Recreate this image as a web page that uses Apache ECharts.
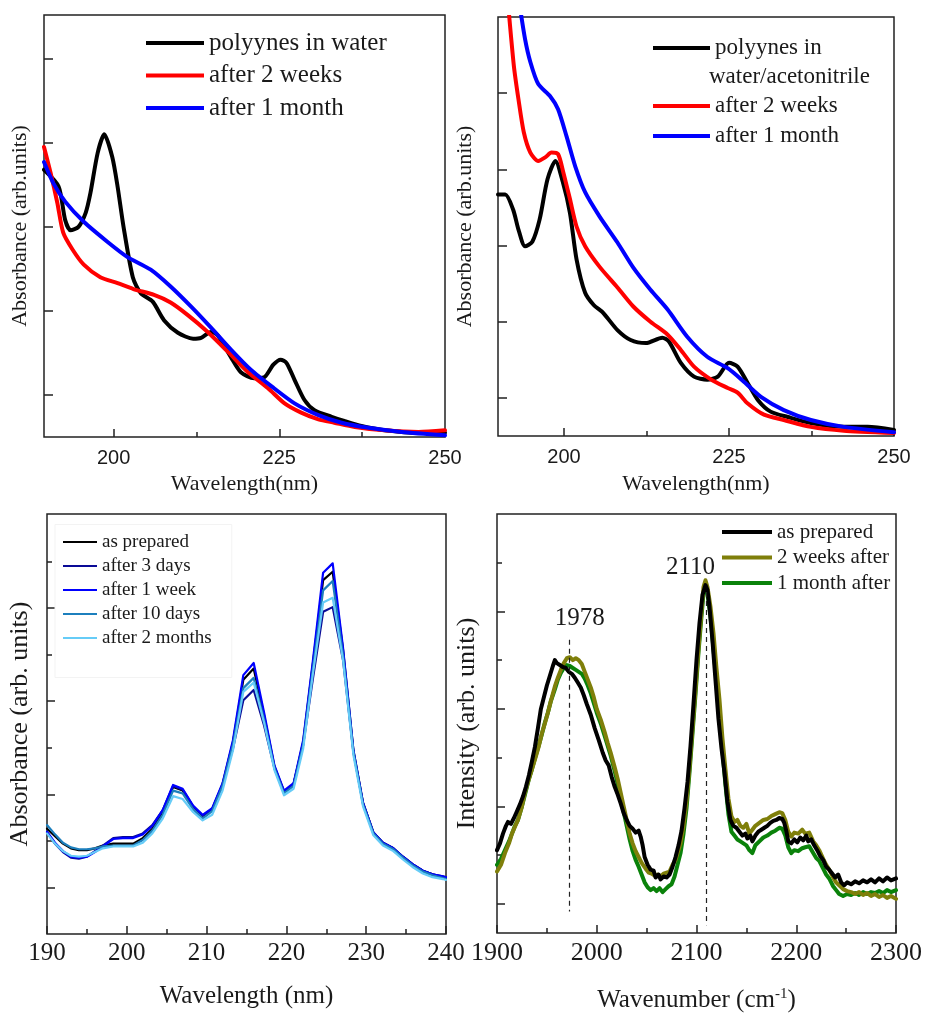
<!DOCTYPE html>
<html>
<head>
<meta charset="utf-8">
<script src="https://cdn.jsdelivr.net/npm/echarts@6/dist/echarts.min.js"></script>
<style>
html,body{margin:0;padding:0;background:#fff;}
#chart{width:925px;height:1014px;}
</style>
</head>
<body>
<div id="chart"></div>
<script>
// ---------- Panel 1 (polyynes in water) ----------
const P1_BLACK_X = [189.5,191.7,192.7,193.5,194.7,195.8,196.5,197.6,198.6,199.8,200.6,201.5,202.9,204.1,205.9,207.6,209.7,212,213.2,214.7,215.7,217.7,219.2,221.2,222.7,224.1,225.2,226.1,227.3,228.8,230.3,232.9,234.8,237.4,240.9,246,250];
const P1_BLACK_Y = [3.68,3.48,3.08,2.96,3.00,3.17,3.40,3.88,4.10,3.83,3.48,3.00,2.40,2.21,2.11,1.89,1.74,1.67,1.68,1.75,1.71,1.45,1.27,1.20,1.21,1.36,1.42,1.38,1.18,0.94,0.82,0.74,0.69,0.63,0.58,0.55,0.55];
const P1_RED_X = [189.5,190.5,191.5,192.4,193.8,195.5,198,200.6,203,206.1,208.6,211.2,214.2,217.3,220.3,223.3,225.8,228.3,230.9,233.3,236.4,240.9,246,250];
const P1_RED_Y = [3.95,3.64,3.29,2.93,2.73,2.55,2.40,2.33,2.26,2.19,2.10,1.95,1.75,1.51,1.27,1.08,0.90,0.79,0.71,0.67,0.62,0.58,0.56,0.58];
const P1_BLUE_X = [189.5,190.9,192.7,195.5,199.1,202.1,205.6,208.6,211.7,214.7,217.7,220.7,224.2,227.3,230.9,234.4,238.5,243.5,250];
const P1_BLUE_Y = [3.77,3.52,3.30,3.06,2.82,2.64,2.49,2.29,2.05,1.80,1.54,1.30,1.08,0.90,0.76,0.67,0.61,0.56,0.52];

// ---------- Panel 2 (polyynes in water/acetonitrile) ----------
const P2_BLACK_X = [190,191.1,192.3,193.1,194.1,195.2,196.3,197.5,198.7,199.8,200.9,201.9,203.2,204.5,205.9,208.1,210.1,212.4,214.9,215.9,217.7,219.7,221.7,223.3,225,226.3,227.8,229.4,231.3,233.9,237.4,242.4,246,250];
const P2_BLACK_Y = [3.67,3.67,3.47,3.21,2.99,3.05,3.34,3.87,4.11,3.84,3.43,2.82,2.38,2.22,2.12,1.89,1.76,1.72,1.79,1.74,1.46,1.28,1.24,1.28,1.46,1.41,1.20,0.97,0.82,0.75,0.67,0.62,0.62,0.58];
const P2_RED_X = [191.3,192.4,193.1,193.9,194.9,196.1,197.2,198.1,199.1,199.9,200.9,201.9,203.2,205.4,208.1,210.5,213.1,215.7,217.7,219.7,222.3,224.8,226.3,227.8,230.3,233.3,237.4,242.4,250];
const P2_RED_Y = [6.4,5.36,4.92,4.49,4.22,4.11,4.16,4.22,4.20,3.96,3.61,3.25,2.99,2.72,2.45,2.20,2.00,1.83,1.63,1.41,1.24,1.13,1.07,0.93,0.78,0.71,0.62,0.57,0.54];
const P2_BLUE_X = [193.2,194.1,194.9,196.1,197.9,199.1,200.4,201.7,203.2,205.4,208.1,210.5,213.1,215.7,218.7,221.7,224.8,227.3,229.9,233.3,237.4,242.4,250];
const P2_BLUE_Y = [6.2,5.71,5.41,5.12,4.96,4.79,4.43,4.04,3.70,3.38,3.04,2.71,2.42,2.16,1.80,1.54,1.39,1.21,1.01,0.84,0.71,0.62,0.55];

// ---------- Panel 3 (UV-Vis over time) ----------
const P3_WAVELENGTH = [190,191,192,193,194,195,196,197,198.3,199.5,200.8,202,203.2,204.5,205.8,207,208.3,209.5,210.7,212,213.3,214.6,215.9,217.2,218.5,219.7,220.9,222.1,223.3,224.6,225.8,227.1,228.4,229.6,230.9,232.1,233.4,234.6,235.8,237.1,238.3,239.6,240];
const P3_AS_PREPARED = [1.63,1.55,1.47,1.42,1.40,1.40,1.42,1.45,1.47,1.47,1.47,1.53,1.63,1.81,2.08,2.04,1.87,1.77,1.84,2.11,2.56,3.23,3.35,2.85,2.30,2.03,2.11,2.56,3.39,4.30,4.39,3.55,2.47,1.91,1.59,1.48,1.42,1.33,1.25,1.18,1.14,1.11,1.10];
const P3_3_DAYS = [1.59,1.47,1.38,1.32,1.31,1.33,1.39,1.45,1.53,1.54,1.54,1.58,1.67,1.83,2.09,2.05,1.87,1.77,1.84,2.10,2.49,3.01,3.12,2.74,2.28,2.03,2.11,2.53,3.23,3.96,4.01,3.44,2.45,1.90,1.59,1.48,1.42,1.33,1.25,1.18,1.14,1.12,1.11];
const P3_1_WEEK = [1.60,1.48,1.39,1.33,1.32,1.33,1.38,1.44,1.52,1.53,1.53,1.57,1.66,1.83,2.10,2.06,1.88,1.78,1.85,2.12,2.58,3.28,3.41,2.88,2.31,2.04,2.12,2.58,3.42,4.38,4.48,3.57,2.47,1.91,1.59,1.48,1.42,1.33,1.25,1.18,1.14,1.12,1.11];
const P3_10_DAYS = [1.67,1.57,1.48,1.43,1.41,1.41,1.42,1.44,1.45,1.45,1.45,1.51,1.61,1.78,2.04,2.01,1.84,1.74,1.82,2.09,2.53,3.14,3.25,2.80,2.28,2.01,2.09,2.53,3.33,4.19,4.29,3.49,2.45,1.89,1.58,1.47,1.41,1.32,1.24,1.17,1.13,1.10,1.09];
const P3_2_MONTHS = [1.58,1.47,1.39,1.34,1.33,1.34,1.38,1.42,1.44,1.44,1.44,1.48,1.58,1.74,1.98,1.95,1.81,1.72,1.78,2.04,2.47,3.10,3.20,2.77,2.26,1.99,2.06,2.49,3.28,4.06,4.11,3.44,2.42,1.87,1.56,1.45,1.39,1.30,1.22,1.15,1.11,1.09,1.08];

// ---------- Panel 4 (Raman) ----------
const P4_PREP_X = [1900,1903,1906,1909,1911,1914,1917,1920,1923,1926,1929,1932,1935,1938,1941,1944,1947,1950,1953,1956,1958,1960,1963,1966,1969,1972,1975,1978,1981,1984,1987,1990,1994,1998,2002,2006,2009,2012,2015,2018,2021,2024,2027,2030,2033,2036,2039,2042,2044,2046,2048,2051,2054,2057,2059,2062,2064,2067,2070,2073,2076,2079,2082,2085,2088,2091,2094,2097,2100,2103,2106,2109,2111,2113,2116,2119,2122,2125,2128,2131,2134,2137,2140,2143,2146,2149,2151,2154,2156,2159,2162,2165,2168,2171,2174,2177,2180,2183,2186,2188,2190,2192,2195,2198,2201,2204,2207,2210,2212,2215,2218,2221,2224,2227,2230,2233,2236,2239,2242,2245,2248,2251,2255,2259,2263,2267,2271,2275,2279,2283,2287,2291,2295,2300];
const P4_PREP_Y = [1.55,1.62,1.72,1.80,1.84,1.82,1.88,1.95,2.02,2.10,2.20,2.32,2.46,2.61,2.80,3.00,3.12,3.24,3.34,3.44,3.50,3.47,3.45,3.43,3.42,3.38,3.36,3.32,3.27,3.22,3.14,3.05,2.94,2.80,2.68,2.55,2.47,2.42,2.30,2.20,2.12,2.03,1.93,1.86,1.80,1.77,1.73,1.75,1.69,1.60,1.48,1.40,1.35,1.34,1.27,1.30,1.25,1.28,1.27,1.30,1.38,1.48,1.60,1.75,1.98,2.25,2.62,3.05,3.50,3.88,4.17,4.27,4.22,4.05,3.70,3.30,2.90,2.60,2.35,2.05,1.86,1.80,1.78,1.74,1.70,1.72,1.67,1.70,1.64,1.70,1.74,1.76,1.78,1.80,1.83,1.85,1.86,1.88,1.87,1.83,1.75,1.64,1.62,1.66,1.63,1.68,1.65,1.70,1.64,1.66,1.60,1.55,1.49,1.45,1.38,1.35,1.31,1.27,1.30,1.22,1.19,1.22,1.20,1.23,1.21,1.24,1.22,1.25,1.22,1.26,1.23,1.27,1.24,1.26];
const P4_2W_X = [1900,1904,1908,1912,1915,1918,1921,1925,1928,1932,1935,1938,1942,1945,1948,1951,1954,1958,1961,1964,1967,1970,1973,1976,1979,1982,1985,1988,1991,1994,1997,2000,2004,2008,2011,2014,2018,2021,2024,2027,2030,2033,2036,2039,2042,2045,2049,2052,2055,2058,2061,2064,2067,2070,2073,2076,2079,2081,2084,2087,2090,2093,2096,2099,2102,2105,2107,2109,2111,2114,2117,2120,2123,2126,2129,2132,2135,2138,2141,2144,2147,2150,2153,2156,2159,2163,2167,2171,2175,2179,2183,2186,2189,2192,2195,2198,2202,2206,2209,2213,2217,2220,2223,2227,2230,2233,2237,2240,2243,2247,2251,2255,2259,2263,2267,2271,2275,2279,2283,2287,2291,2295,2300];
const P4_2W_Y = [1.33,1.40,1.52,1.62,1.72,1.79,1.86,2.00,2.14,2.28,2.38,2.48,2.62,2.75,2.85,2.96,3.08,3.23,3.32,3.40,3.47,3.52,3.53,3.50,3.52,3.50,3.46,3.38,3.30,3.22,3.12,3.00,2.89,2.76,2.65,2.55,2.40,2.28,2.14,2.00,1.86,1.72,1.62,1.54,1.48,1.42,1.36,1.32,1.31,1.29,1.30,1.28,1.31,1.32,1.33,1.40,1.45,1.52,1.62,1.80,2.05,2.40,2.80,3.20,3.62,4.00,4.25,4.32,4.25,4.05,3.78,3.42,3.10,2.70,2.38,2.08,1.90,1.84,1.86,1.80,1.78,1.82,1.72,1.76,1.80,1.83,1.86,1.87,1.90,1.92,1.94,1.93,1.86,1.74,1.69,1.73,1.72,1.76,1.72,1.73,1.64,1.60,1.55,1.46,1.40,1.35,1.27,1.22,1.19,1.15,1.13,1.12,1.10,1.12,1.09,1.11,1.08,1.10,1.07,1.09,1.06,1.08,1.05];
const P4_1M_X = [1900,1904,1908,1912,1915,1918,1921,1925,1928,1932,1935,1938,1942,1945,1948,1951,1954,1958,1961,1964,1967,1970,1973,1976,1979,1982,1985,1988,1991,1994,1997,2000,2004,2008,2011,2014,2018,2021,2024,2027,2030,2033,2036,2039,2042,2045,2048,2051,2054,2057,2060,2063,2066,2069,2072,2075,2078,2081,2084,2087,2090,2093,2096,2099,2102,2105,2107,2109,2111,2114,2117,2120,2123,2126,2129,2132,2135,2138,2141,2144,2147,2150,2153,2156,2159,2163,2167,2171,2175,2179,2183,2186,2189,2192,2195,2198,2202,2206,2209,2213,2217,2220,2223,2227,2230,2233,2237,2240,2243,2247,2251,2255,2259,2263,2267,2271,2275,2279,2283,2287,2291,2295,2300];
const P4_1M_Y = [1.40,1.46,1.55,1.64,1.72,1.80,1.86,2.00,2.12,2.28,2.38,2.49,2.63,2.74,2.86,2.96,3.08,3.20,3.30,3.37,3.42,3.45,3.44,3.42,3.40,3.38,3.36,3.31,3.24,3.16,3.06,2.96,2.85,2.72,2.62,2.52,2.36,2.23,2.08,1.94,1.80,1.66,1.54,1.45,1.38,1.30,1.22,1.17,1.14,1.16,1.13,1.16,1.12,1.15,1.18,1.20,1.28,1.40,1.52,1.72,1.98,2.35,2.75,3.15,3.58,3.95,4.18,4.24,4.18,3.95,3.62,3.28,2.93,2.58,2.22,1.92,1.74,1.70,1.66,1.64,1.62,1.60,1.55,1.52,1.60,1.64,1.68,1.70,1.73,1.75,1.78,1.77,1.70,1.58,1.52,1.55,1.54,1.57,1.58,1.59,1.52,1.47,1.44,1.36,1.30,1.26,1.18,1.14,1.10,1.08,1.10,1.09,1.11,1.09,1.12,1.10,1.12,1.11,1.13,1.11,1.14,1.12,1.14];

// Peak markers in panel 4
const P4_PEAK_LINES = [{x: 1972, from: 3.71, to: 0.92}, {x: 2110, from: 4.20, to: 0.78}];
const P4_PEAK_LABELS = [{text: '1978', x: 1983, y: 3.93}, {text: '2110', x: 2094, y: 4.45}];

// Tick values
const TOP_X_MAJOR = [200, 225, 250];
const TOP_X_MINOR = [212.5, 237.5];
const TOP_Y_TICKS = [1, 2, 3, 4, 5];
const BOT_Y_MAJOR = [1, 2, 3, 4];
const BOT_Y_MINOR = [1.5, 2.5, 3.5, 4.5];

const zip = (xs, ys) => xs.map((x, i) => [x, ys[i]]);

const SERIF = "'Liberation Serif', 'Times New Roman', serif";
const SANS = "'Liberation Sans', Arial, sans-serif";
const INK = '#1a1a1a';
const BORDER = '#222';
const plain = v => String(v);

function gridBox(left, top, width, height) {
  return {left, top, width, height, show: true, borderColor: BORDER, borderWidth: 1.5, backgroundColor: 'transparent', containLabel: false};
}
function tickAxis(extra) {
  return Object.assign({
    type: 'value',
    axisLine: {show: false},
    splitLine: {show: false},
    axisLabel: {show: false},
    axisTick: {show: true, inside: true, length: 8, lineStyle: {color: BORDER, width: 1.5}}
  }, extra);
}
function lineSeries(name, data, color, width, xi, yi, smooth, z) {
  return {type: 'line', name, data, xAxisIndex: xi, yAxisIndex: yi, showSymbol: false, symbol: 'none',
    smooth: smooth, color: color, lineStyle: {color: color, width: width, join: 'round', cap: 'round'}, z: z || 2, clip: true};
}

const option = {
  animation: false,
  backgroundColor: '#fff',
  grid: [
    gridBox(44, 15, 401, 422),
    gridBox(498, 17, 396, 419),
    gridBox(47, 514, 399, 420),
    gridBox(497, 514, 400, 419)
  ],
  xAxis: [
    // 0: panel 1 major
    tickAxis({gridIndex: 0, min: 189.5, max: 250, position: 'bottom',
      axisTick: {show: true, inside: true, length: 8, customValues: TOP_X_MAJOR, lineStyle: {color: BORDER, width: 1.5}},
      axisLabel: {show: true, customValues: TOP_X_MAJOR, formatter: plain, fontFamily: SANS, fontSize: 20, color: INK, margin: 11},
      name: 'Wavelength(nm)', nameLocation: 'middle', nameGap: 36,
      nameTextStyle: {fontFamily: SERIF, fontSize: 22, color: INK}}),
    // 1: panel 1 minor
    tickAxis({gridIndex: 0, min: 189.5, max: 250, position: 'bottom', offset: 0,
      axisTick: {show: true, inside: true, length: 5, customValues: TOP_X_MINOR, lineStyle: {color: BORDER, width: 1.5}}}),
    // 2: panel 2 major
    tickAxis({gridIndex: 1, min: 190, max: 250, position: 'bottom',
      axisTick: {show: true, inside: true, length: 8, customValues: TOP_X_MAJOR, lineStyle: {color: BORDER, width: 1.5}},
      axisLabel: {show: true, customValues: TOP_X_MAJOR, formatter: plain, fontFamily: SANS, fontSize: 20, color: INK, margin: 11},
      name: 'Wavelength(nm)', nameLocation: 'middle', nameGap: 37,
      nameTextStyle: {fontFamily: SERIF, fontSize: 22, color: INK}}),
    // 3: panel 2 minor
    tickAxis({gridIndex: 1, min: 190, max: 250, position: 'bottom', offset: 0,
      axisTick: {show: true, inside: true, length: 5, customValues: TOP_X_MINOR, lineStyle: {color: BORDER, width: 1.5}}}),
    // 4: panel 3
    tickAxis({gridIndex: 2, min: 190, max: 240, interval: 10, position: 'bottom',
      minorTick: {show: true, splitNumber: 2, length: 5, lineStyle: {color: BORDER, width: 1.5}},
      axisLabel: {show: true, showMinLabel: true, showMaxLabel: true, formatter: plain, fontFamily: SERIF, fontSize: 25, color: INK, margin: 7},
      name: 'Wavelength (nm)', nameLocation: 'middle', nameGap: 50,
      nameTextStyle: {fontFamily: SERIF, fontSize: 25, color: INK}}),
    // 5: panel 4
    tickAxis({gridIndex: 3, min: 1900, max: 2300, interval: 100, position: 'bottom',
      minorTick: {show: true, splitNumber: 2, length: 5, lineStyle: {color: BORDER, width: 1.5}},
      axisLabel: {show: true, showMinLabel: true, showMaxLabel: true, formatter: plain, fontFamily: SERIF, fontSize: 26, color: INK, margin: 7},
      name: 'Wavenumber (cm{sup|-1})', nameLocation: 'middle', nameGap: 54,
      nameTextStyle: {fontFamily: SERIF, fontSize: 25, color: INK,
        rich: {sup: {fontFamily: SERIF, fontSize: 15, color: INK, padding: [0, 0, 12, 0]}}}})
  ],
  yAxis: [
    // 0: panel 1
    tickAxis({gridIndex: 0, min: 0.5, max: 5.52, position: 'left',
      axisTick: {show: true, inside: true, length: 9, customValues: TOP_Y_TICKS, lineStyle: {color: BORDER, width: 1.5}},
      name: 'Absorbance (arb.units)', nameLocation: 'middle', nameGap: 13,
      nameTextStyle: {fontFamily: SERIF, fontSize: 22, color: INK}}),
    // 1: panel 2
    tickAxis({gridIndex: 1, min: 0.5, max: 6.0, position: 'left',
      axisTick: {show: true, inside: true, length: 9, customValues: TOP_Y_TICKS, lineStyle: {color: BORDER, width: 1.5}},
      name: 'Absorbance (arb.units)', nameLocation: 'middle', nameGap: 22,
      nameTextStyle: {fontFamily: SERIF, fontSize: 22, color: INK}}),
    // 2: panel 3 major
    tickAxis({gridIndex: 2, min: 0.5, max: 5.01, position: 'left',
      axisTick: {show: true, inside: true, length: 8, customValues: BOT_Y_MAJOR, lineStyle: {color: BORDER, width: 1.5}},
      name: 'Absorbance (arb. units)', nameLocation: 'middle', nameGap: 14,
      nameTextStyle: {fontFamily: SERIF, fontSize: 26, color: INK}}),
    // 3: panel 3 minor
    tickAxis({gridIndex: 2, min: 0.5, max: 5.01, position: 'left', offset: 0,
      axisTick: {show: true, inside: true, length: 5, customValues: BOT_Y_MINOR, lineStyle: {color: BORDER, width: 1.5}}}),
    // 4: panel 4 major
    tickAxis({gridIndex: 3, min: 0.7, max: 5.0, position: 'left',
      axisTick: {show: true, inside: true, length: 8, customValues: BOT_Y_MAJOR, lineStyle: {color: BORDER, width: 1.5}},
      name: 'Intensity (arb. units)', nameLocation: 'middle', nameGap: 17,
      nameTextStyle: {fontFamily: SERIF, fontSize: 26, color: INK}}),
    // 5: panel 4 minor
    tickAxis({gridIndex: 3, min: 0.7, max: 5.0, position: 'left', offset: 0,
      axisTick: {show: true, inside: true, length: 5, customValues: BOT_Y_MINOR, lineStyle: {color: BORDER, width: 1.5}}})
  ],
  legend: [
    {data: ['polyynes in water', 'after 2 weeks', 'after 1 month'], orient: 'vertical', left: 146, top: 30.5, padding: 0,
      icon: 'rect', itemWidth: 58, itemHeight: 4, itemGap: 7.5, selectedMode: false,
      textStyle: {fontFamily: SERIF, fontSize: 25, lineHeight: 25, color: INK}},
    {data: ['polyynes in'], orient: 'vertical', left: 653, top: 36.5, padding: 0,
      icon: 'rect', itemWidth: 57, itemHeight: 4, selectedMode: false,
      textStyle: {fontFamily: SERIF, fontSize: 23, lineHeight: 23, color: INK}},
    {data: ['after 2 weeks', 'after 1 month'], orient: 'vertical', left: 653, top: 94.5, padding: 0,
      icon: 'rect', itemWidth: 57, itemHeight: 4, itemGap: 7, selectedMode: false,
      textStyle: {fontFamily: SERIF, fontSize: 23, lineHeight: 23, color: INK}},
    {data: ['as prepared', 'after 3 days', 'after 1 week', 'after 10 days', 'after 2 months'], orient: 'vertical',
      left: 55, top: 524.5, padding: [8, 20, 30, 8], borderColor: '#f3f3f3', borderWidth: 1,
      icon: 'rect', itemWidth: 34, itemHeight: 2, itemGap: 5, selectedMode: false,
      textStyle: {fontFamily: SERIF, fontSize: 19, lineHeight: 19, color: INK}},
    {data: ['as prepared ', '2 weeks after', '1 month after'], orient: 'vertical', left: 722, top: 521.5, padding: 0,
      icon: 'rect', itemWidth: 50, itemHeight: 4, itemGap: 4.5, selectedMode: false,
      textStyle: {fontFamily: SERIF, fontSize: 21, lineHeight: 21, color: INK}}
  ],
  graphic: [
    {type: 'text', left: 709, top: 65.5, silent: true,
      style: {text: 'water/acetonitrile', font: "23px 'Liberation Serif'", fill: INK}}
  ],
  series: [
    // panel 1
    lineSeries('polyynes in water', zip(P1_BLACK_X, P1_BLACK_Y), '#000000', 4, 0, 0, 0.25),
    lineSeries('after 2 weeks', zip(P1_RED_X, P1_RED_Y), '#ff0000', 4, 0, 0, 0.25, 3),
    lineSeries('after 1 month', zip(P1_BLUE_X, P1_BLUE_Y), '#0000ff', 4, 0, 0, 0.25, 4),
    // panel 2
    lineSeries('polyynes in', zip(P2_BLACK_X, P2_BLACK_Y), '#000000', 4, 2, 1, 0.25),
    lineSeries('after 2 weeks', zip(P2_RED_X, P2_RED_Y), '#ff0000', 4, 2, 1, 0.25, 3),
    lineSeries('after 1 month', zip(P2_BLUE_X, P2_BLUE_Y), '#0000ff', 4, 2, 1, 0.25, 4),
    // panel 3
    lineSeries('as prepared', zip(P3_WAVELENGTH, P3_AS_PREPARED), '#000000', 2.2, 4, 2, false, 2),
    lineSeries('after 3 days', zip(P3_WAVELENGTH, P3_3_DAYS), '#0a0a96', 2.2, 4, 2, false, 3),
    lineSeries('after 1 week', zip(P3_WAVELENGTH, P3_1_WEEK), '#0000ff', 2.2, 4, 2, false, 4),
    lineSeries('after 10 days', zip(P3_WAVELENGTH, P3_10_DAYS), '#1c7fbd', 2.2, 4, 2, false, 5),
    lineSeries('after 2 months', zip(P3_WAVELENGTH, P3_2_MONTHS), '#66ccf7', 2.2, 4, 2, false, 6),
    // panel 4
    lineSeries('1 month after', zip(P4_1M_X, P4_1M_Y), '#0a820a', 4, 5, 4, false, 2),
    lineSeries('2 weeks after', zip(P4_2W_X, P4_2W_Y), '#7f7f0a', 4, 5, 4, false, 3),
    Object.assign(lineSeries('as prepared ', zip(P4_PREP_X, P4_PREP_Y), '#000000', 4, 5, 4, false, 4), {
      markLine: {
        silent: true, symbol: ['none', 'none'], label: {show: false},
        lineStyle: {color: '#222', width: 1.2, type: [5, 4]},
        data: P4_PEAK_LINES.map(l => [{coord: [l.x, l.from]}, {coord: [l.x, l.to]}])
      },
      markPoint: {
        silent: true, symbol: 'circle', symbolSize: 0,
        label: {show: true, position: 'inside', formatter: p => p.name, fontFamily: SERIF, fontSize: 25, color: INK},
        data: P4_PEAK_LABELS.map(l => ({name: l.text, coord: [l.x, l.y]}))
      }
    })
  ]
};

const chart = echarts.init(document.getElementById('chart'), null, {renderer: 'canvas'});
chart.setOption(option);
</script>
</body>
</html>
